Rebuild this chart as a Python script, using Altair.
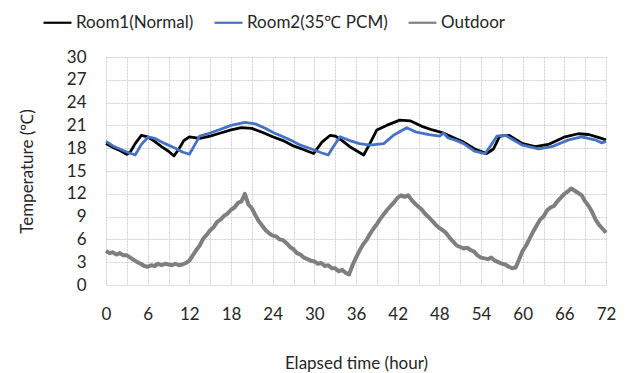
import altair as alt
import pandas as pd

# Indoor room temperatures (hour, °C)
room1_hours = [0, 1, 2, 3, 3.5, 4.2, 5.1, 6, 7, 8, 9, 9.8, 10.5, 11.2, 12, 13.5, 15, 16.5,
               18, 19.5, 21, 22.5, 24, 25.5, 27, 28.5, 29.9, 31.1, 32.3, 33, 34, 35.1, 36.2,
               37.1, 38, 39, 40.4, 42.3, 43.8, 45.7, 47, 48.6, 50, 51.5, 53.1, 54.8, 55.8,
               56.7, 58, 60, 61.8, 63.7, 66.1, 68, 69.5, 71, 72]
room1_temps = [18.6, 18.1, 17.7, 17.2, 17.5, 18.6, 19.7, 19.5, 18.9, 18.2, 17.6, 17.0, 17.9,
               19.0, 19.5, 19.3, 19.6, 20.0, 20.4, 20.7, 20.6, 20.1, 19.5, 19.0, 18.3, 17.8,
               17.3, 18.8, 19.7, 19.6, 19.0, 18.2, 17.6, 17.1, 18.6, 20.4, 21.0, 21.7, 21.6,
               20.8, 20.4, 20.0, 19.4, 18.8, 17.9, 17.3, 17.9, 19.6, 19.7, 18.6, 18.2, 18.5,
               19.5, 19.9, 19.8, 19.4, 19.1]

room2_hours = [0, 1, 2, 3, 4.2, 5.1, 6.1, 7, 8.5, 10, 11, 12, 12.7, 13.5, 15, 16.5, 18, 19,
               20, 21.5, 23, 24, 25.5, 26.7, 28, 29.6, 31, 32, 32.8, 33.7, 35.1, 36.5, 38,
               40, 41.4, 43.3, 44.7, 46.5, 48.1, 48.6, 49.2, 50.5, 51.5, 53.1, 54.6, 55.3,
               56.3, 57.5, 60, 62.3, 64.2, 66.6, 68.5, 70.4, 71.4, 72]
room2_temps = [18.9, 18.3, 17.9, 17.5, 17.1, 18.5, 19.5, 19.3, 18.6, 18.0, 17.5, 17.2, 18.3,
               19.6, 20.0, 20.5, 21.0, 21.2, 21.4, 21.2, 20.6, 20.1, 19.5, 19.0, 18.4, 17.9,
               17.4, 17.1, 18.3, 19.5, 19.0, 18.6, 18.4, 18.6, 19.7, 20.7, 20.1, 19.8, 19.6,
               20.0, 19.4, 19.0, 18.6, 17.6, 17.3, 18.2, 19.6, 19.7, 18.4, 17.9, 18.2, 19.1,
               19.5, 19.1, 18.7, 18.9]

# Outdoor temperature, logged every half hour from 0 h to 72 h
outdoor_temps = [
    4.5, 4.2, 4.3, 4.0, 4.2, 3.9, 3.9, 3.6, 3.3, 3.0, 2.8, 2.5, 2.4, 2.6, 2.5, 2.8, 2.6, 2.8,
    2.7, 2.6, 2.8, 2.6, 2.7, 2.9, 3.2, 3.9, 4.6, 5.2, 6.1, 6.6, 7.2, 7.6, 8.3, 8.6, 9.1, 9.4,
    9.9, 10.2, 10.8, 11.0, 12.0, 10.6, 10.1, 9.2, 8.4, 7.8, 7.2, 6.8, 6.5, 6.4, 6.0, 5.9, 5.5,
    5.0, 4.7, 4.2, 4.0, 3.6, 3.4, 3.2, 3.1, 2.8, 2.9, 2.5, 2.6, 2.2, 2.2, 1.8, 2.0, 1.6, 1.4,
    2.6, 3.6, 4.5, 5.3, 5.9, 6.7, 7.4, 8.0, 8.7, 9.3, 9.9, 10.4, 10.9, 11.5, 11.8, 11.6, 11.8,
    11.2, 10.7, 10.3, 9.9, 9.3, 8.9, 8.4, 7.9, 7.5, 7.2, 6.8, 6.2, 5.7, 5.2, 5.0, 4.8, 4.9,
    4.6, 4.4, 3.9, 3.6, 3.5, 3.4, 3.6, 3.2, 3.0, 2.8, 2.7, 2.4, 2.2, 2.3, 3.4, 4.5, 5.2, 6.1,
    7.0, 7.8, 8.6, 9.0, 9.8, 10.2, 10.4, 11.0, 11.5, 12.0, 12.3, 12.7, 12.4, 12.1, 11.8, 11.0,
    10.4, 9.6, 8.6, 7.9, 7.4, 6.9,
]
outdoor_hours = [i * 0.5 for i in range(len(outdoor_temps))]

series_names = ["Room1(Normal)", "Room2(35\u2103 PCM)", "Outdoor"]
series_colors = ["#000000", "#4472C4", "#7F7F7F"]

frames = [
    pd.DataFrame({"hour": room1_hours, "temp": room1_temps, "series": series_names[0], "w": 2.8}),
    pd.DataFrame({"hour": room2_hours, "temp": room2_temps, "series": series_names[1], "w": 2.8}),
    pd.DataFrame({"hour": outdoor_hours, "temp": outdoor_temps, "series": series_names[2], "w": 4.0}),
]
df = pd.concat(frames, ignore_index=True)

FONT = "Lato"
TEXT_COLOR = "#262626"
grid_color = "#D0D0D0"

chart = (
    alt.Chart(df)
    .mark_line(strokeJoin="round")
    .encode(
        x=alt.X(
            "hour:Q",
            scale=alt.Scale(domain=[0, 72], nice=False, zero=False),
            axis=alt.Axis(
                title="Elapsed time (hour)",
                values=list(range(0, 73, 3)),
                labelExpr="datum.value % 6 == 0 ? datum.label : ''",
                labelFlush=False,
                titlePadding=33,
                labelPadding=21,
            ),
        ),
        y=alt.Y(
            "temp:Q",
            scale=alt.Scale(domain=[0, 30], nice=False),
            axis=alt.Axis(
                title="Temperature (\u2103)",
                values=list(range(0, 31, 3)),
                labelFlush=False,
                labelPadding=20,
                titlePadding=30,
            ),
        ),
        color=alt.Color(
            "series:N",
            scale=alt.Scale(domain=series_names, range=series_colors),
            sort=series_names,
            legend=alt.Legend(
                title=None,
                orient="none",
                legendX=-64,
                legendY=-50,
                direction="horizontal",
                symbolType="stroke",
                symbolSize=780,
                symbolStrokeWidth=2.2,
                labelOffset=3,
                columnPadding=16,
                labelFontSize=17,
                labelFont=FONT,
                labelColor=TEXT_COLOR,
            ),
        ),
        strokeWidth=alt.StrokeWidth("w:Q", scale=None, legend=None),
        order=alt.Order("hour:Q"),
    )
    .properties(width=500, height=228, padding={"left": 106, "top": 57, "right": 23, "bottom": 88},
                autosize=alt.AutoSizeParams(type="none"), background="white")
    .configure_view(stroke=None)
    .configure_axis(
        grid=True,
        gridColor=grid_color,
        gridDash=[2, 1],
        gridWidth=1,
        domain=False,
        ticks=False,
        labelFont=FONT,
        labelFontSize=17,
        labelColor=TEXT_COLOR,
        titleFont=FONT,
        titleFontSize=17,
        titleFontWeight="normal",
        titleColor=TEXT_COLOR,
    )
)

chart.save("out.html", embed_options={"renderer": "svg", "actions": False})
